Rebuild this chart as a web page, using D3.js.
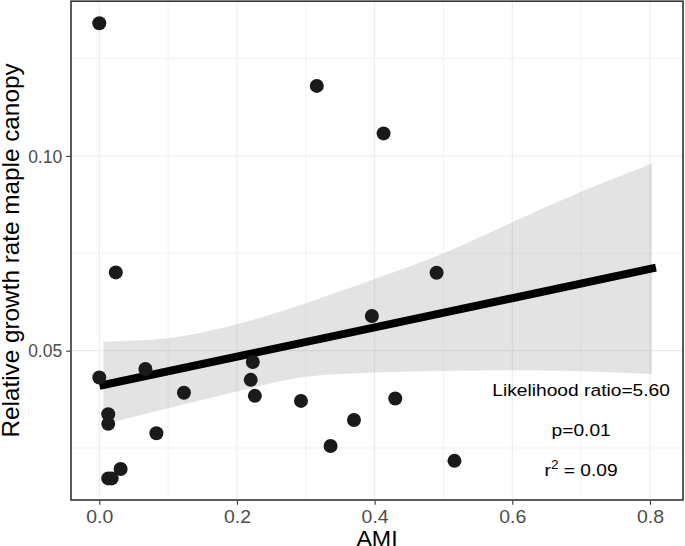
<!DOCTYPE html>
<html>
<head>
<meta charset="utf-8">
<script src="https://cdn.jsdelivr.net/npm/d3@7"></script>
<style>
  html, body { margin: 0; padding: 0; background: #fff; }
  svg { display: block; font-family: "Liberation Sans", Arial, Helvetica, sans-serif; }
</style>
</head>
<body>
<svg id="chart" width="685" height="546"></svg>
<script>
// ---- data ----
const amiValues = [0.000, 0.316, 0.413, 0.024, 0.490, 0.396, 0.067, 0.000, 0.223, 0.220,
                   0.226, 0.123, 0.293, 0.013, 0.013, 0.083, 0.031, 0.013, 0.018, 0.336,
                   0.370, 0.430, 0.516];
const growthValues = [0.1341, 0.1180, 0.1058, 0.0701, 0.0700, 0.0589, 0.0453, 0.0431, 0.0471, 0.0425,
                      0.0384, 0.0392, 0.0371, 0.0337, 0.0312, 0.0288, 0.0196, 0.0172, 0.0172, 0.0255,
                      0.0322, 0.0377, 0.0217];

// fitted line and its confidence band
const fitX = [0.006, 0.803];
const fitY = [0.0412, 0.0711];
const bandX     = [0.006, 0.05, 0.10, 0.20, 0.30, 0.40, 0.50, 0.60, 0.70, 0.803];
const bandUpper = [0.0523, 0.0526, 0.0532, 0.0568, 0.0622, 0.0684, 0.0750, 0.0830, 0.0908, 0.0981];
const bandLower = [0.0309, 0.0330, 0.0352, 0.0395, 0.0433, 0.0444, 0.0448, 0.0450, 0.0447, 0.0440];

const xTicks = [0.0, 0.2, 0.4, 0.6, 0.8];
const xMinor = [0.1, 0.3, 0.5, 0.7];
const yTicks = [0.05, 0.10];
const yMinor = [0.025, 0.075, 0.125];

const annotations = ["Likelihood ratio=5.60", "p=0.01"];
const r2Label = { base: "r", sup: "2", rest: " = 0.09" };
const xTitle = "AMI";
const yTitle = "Relative growth rate maple canopy";

// ---- layout ----
const svg = d3.select("#chart");
const P = { left: 71, right: 683, top: 1, bottom: 500 };
const x = d3.scaleLinear().domain([-0.0411, 0.848]).range([P.left, P.right]);
const y = d3.scaleLinear().domain([0.01165, 0.1398]).range([P.bottom, P.top]);

// grid
const grid = svg.append("g");
grid.selectAll(".xminor").data(xMinor).join("line")
  .attr("x1", d => x(d)).attr("x2", d => x(d)).attr("y1", P.top).attr("y2", P.bottom)
  .attr("stroke", "#ebebeb").attr("stroke-width", 0.6);
grid.selectAll(".yminor").data(yMinor).join("line")
  .attr("y1", d => y(d)).attr("y2", d => y(d)).attr("x1", P.left).attr("x2", P.right)
  .attr("stroke", "#ebebeb").attr("stroke-width", 0.6);
grid.selectAll(".xmajor").data(xTicks).join("line")
  .attr("x1", d => x(d)).attr("x2", d => x(d)).attr("y1", P.top).attr("y2", P.bottom)
  .attr("stroke", "#ebebeb").attr("stroke-width", 1.1);
grid.selectAll(".ymajor").data(yTicks).join("line")
  .attr("y1", d => y(d)).attr("y2", d => y(d)).attr("x1", P.left).attr("x2", P.right)
  .attr("stroke", "#ebebeb").attr("stroke-width", 1.1);

// confidence band
const band = bandX.map((v, i) => ({ x: v, lo: bandLower[i], hi: bandUpper[i] }));
svg.append("path").datum(band)
  .attr("d", d3.area().curve(d3.curveMonotoneX)
    .x(d => x(d.x)).y0(d => y(d.lo)).y1(d => y(d.hi)))
  .attr("fill", "#999999").attr("fill-opacity", 0.28);

// fit line
svg.append("path").datum(fitX.map((v, i) => [v, fitY[i]]))
  .attr("d", d3.line().x(d => x(d[0])).y(d => y(d[1])))
  .attr("fill", "none").attr("stroke", "#000").attr("stroke-width", 8)
  .attr("stroke-linecap", "square");

// points
svg.append("g").selectAll("circle").data(amiValues.map((v, i) => [v, growthValues[i]]))
  .join("circle")
  .attr("cx", d => x(d[0])).attr("cy", d => y(d[1])).attr("r", 7)
  .attr("fill", "#1a1a1a");

// panel border
svg.append("rect")
  .attr("x", P.left).attr("y", P.top + 0.2)
  .attr("width", P.right - P.left).attr("height", P.bottom - P.top - 0.2)
  .attr("fill", "none").attr("stroke", "#333333").attr("stroke-width", 1.6);

// axes
const xAxis = d3.axisBottom(x).tickValues(xTicks).tickFormat(d3.format(".1f")).tickSize(4).tickPadding(5);
const gx = svg.append("g").attr("transform", `translate(0,${P.bottom + 0.8})`).call(xAxis);
gx.select(".domain").remove();
gx.selectAll(".tick line").attr("stroke", "#333333").attr("stroke-width", 1.1);
gx.selectAll(".tick text").attr("fill", "#4d4d4d").attr("font-size", 18)
  .attr("font-family", "Liberation Sans, Arial, sans-serif")
  .attr("transform", "scale(1.08,1)").attr("x", 0);

const yAxis = d3.axisLeft(y).tickValues(yTicks).tickFormat(d3.format(".2f")).tickSize(4).tickPadding(4);
const gy = svg.append("g").attr("transform", `translate(${P.left - 0.8},0)`).call(yAxis);
gy.select(".domain").remove();
gy.selectAll(".tick line").attr("stroke", "#333333").attr("stroke-width", 1.1);
gy.selectAll(".tick text").attr("fill", "#4d4d4d").attr("font-size", 17.5)
  .attr("font-family", "Liberation Sans, Arial, sans-serif").attr("dy", "0.36em");

// annotations
const annX = x(0.70);
const annY = [y(0.0384), y(0.0282)];
annotations.forEach((t, i) => {
  svg.append("text")
    .attr("transform", `translate(${annX},${annY[i]}) scale(1.13,1)`)
    .attr("text-anchor", "middle").attr("font-size", 17).attr("fill", "#000")
    .text(t);
});
const r2 = svg.append("text")
  .attr("transform", `translate(${annX},${y(0.0179)}) scale(1.13,1)`)
  .attr("text-anchor", "middle").attr("font-size", 17).attr("fill", "#000");
r2.append("tspan").text(r2Label.base);
r2.append("tspan").attr("font-size", 12).attr("dy", -7).text(r2Label.sup);
r2.append("tspan").attr("dy", 7).text(r2Label.rest);

// axis titles
svg.append("text")
  .attr("transform", `translate(${(P.left + P.right) / 2},545.5) scale(1.03,1)`)
  .attr("text-anchor", "middle").attr("font-size", 22.5).attr("fill", "#000")
  .text(xTitle);
svg.append("text")
  .attr("transform", `translate(18.5,250.5) rotate(-90)`)
  .attr("text-anchor", "middle").attr("font-size", 24.3).attr("fill", "#000")
  .text(yTitle);
</script>
</body>
</html>
